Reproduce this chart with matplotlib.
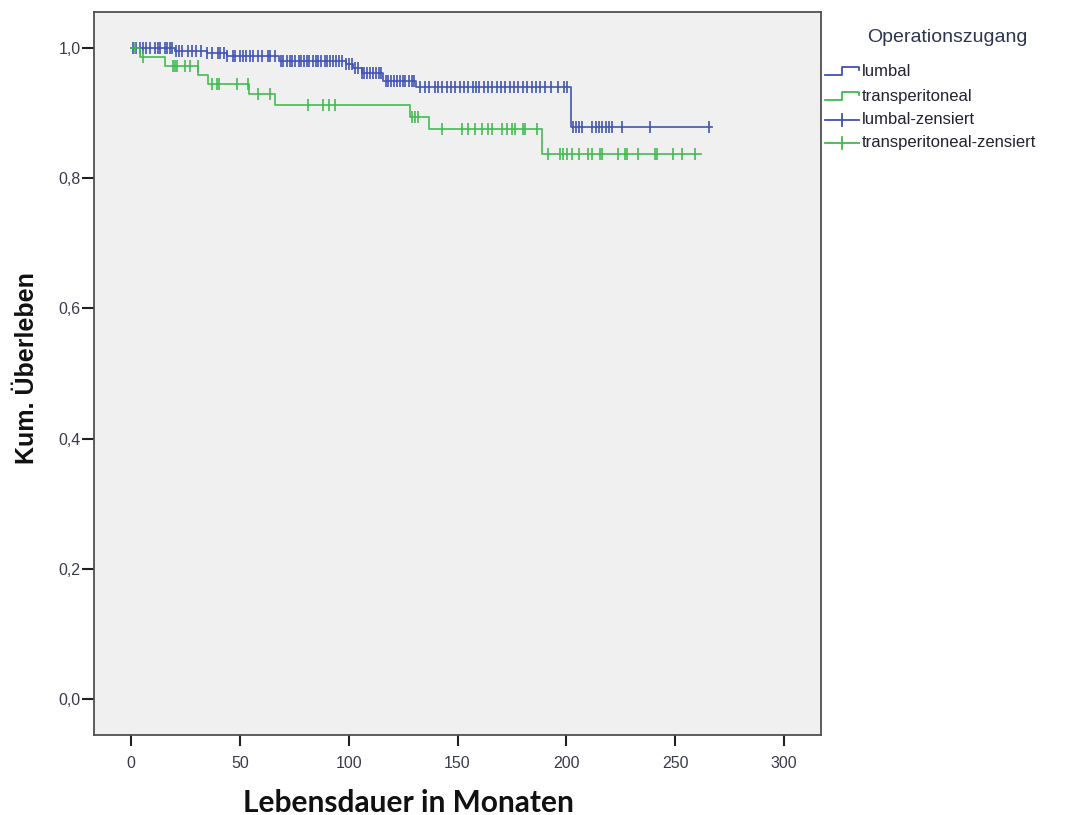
"""Kaplan-Meier-Kurven nach Operationszugang."""

import numpy as np
import matplotlib.pyplot as plt
from matplotlib.ticker import FuncFormatter

# lumbal: Ereigniszeiten (Monate) und kumuliertes Überleben nach dem Schritt
lumbal_t = [0, 20, 35, 44, 68, 99, 102, 106, 116, 131, 202]
lumbal_s = [1.0, 0.996, 0.992, 0.987, 0.980, 0.975, 0.969, 0.962, 0.950, 0.940, 0.879]
lumbal_ende = 267

lumbal_zensiert = [
    1, 2.5, 4, 5.5, 7, 8.5, 11, 12.5, 13.5, 15.5, 16.5, 18, 19, 20.5, 22, 23.5,
    26, 28, 30, 32, 35, 37, 40, 41, 42.5, 44, 47, 48, 50, 51.5, 53, 54.5, 56,
    58.5, 60, 63, 64, 66, 69, 70, 71.5, 73, 74, 75.5, 77, 78, 79.5, 81, 82,
    83.5, 85, 86, 87.5, 89, 90, 91.5, 93, 94, 95.5, 97, 99, 100, 101.5, 103,
    104.5, 106, 107, 108.5, 110, 111, 112.5, 114, 115, 117, 118, 119.5, 121,
    122, 123.5, 125, 126, 127.5, 129, 130, 133, 135, 137, 139.5, 141, 143, 145,
    147, 149, 151, 153, 155, 157, 158.5, 160, 162, 164, 166, 168, 170, 172,
    174, 176, 178, 180, 182, 184, 186, 188, 190, 193, 196, 199, 200.5, 203,
    204.5, 206, 207, 212, 213.5, 215, 216.5, 218, 219.5, 221, 225.5, 238.5,
    265.5,
]

# transperitoneal
trans_t = [0, 4, 15.5, 31, 35.5, 54, 66, 128, 137, 189]
trans_s = [1.0, 0.986, 0.972, 0.958, 0.944, 0.929, 0.912, 0.894, 0.876, 0.837]
trans_ende = 262

trans_zensiert = [
    1.8, 5.7, 19.1, 20.2, 21, 24.8, 27.1, 30.9, 37, 39.4, 40.6, 48.5, 53.9,
    58.5, 63.8, 81.4, 88.3, 91.1, 93.7, 128.9, 130.5, 132, 142.7, 151.9, 154.9,
    158, 161.1, 164.1, 165.7, 170.3, 172.6, 174.9, 176.4, 180.2, 181, 186.4,
    191.7, 197.1, 198.6, 200.1, 202.4, 205.9, 210, 211.6, 215.4, 216.6, 223.8,
    226.9, 228, 233, 240.7, 241.5, 249.1, 253, 259.1,
]

gruppen = ["lumbal", "transperitoneal"]
farben = {"lumbal": "#3F52B2", "transperitoneal": "#3FBA4E"}
x_ticks = [0, 50, 100, 150, 200, 250, 300]
y_ticks = [0.0, 0.2, 0.4, 0.6, 0.8, 1.0]

TEXT = "#3A3A4E"
W, H = 1066, 815


def ueberleben_bei(t_ereignis, s_ereignis, zeiten):
    idx = np.searchsorted(np.asarray(t_ereignis), np.asarray(zeiten), side="right") - 1
    return np.asarray(s_ereignis)[idx]


def kurve(ax, t, s, ende, zensiert, farbe):
    tt = list(t) + [ende]
    ss = list(s) + [s[-1]]
    ax.step(tt, ss, where="post", color=farbe, lw=1.3, alpha=0.9)
    ax.plot(zensiert, ueberleben_bei(t, s, zensiert), ls="none", marker="|",
            ms=9, mew=1.3, color=farbe, alpha=0.9)


fig = plt.figure(figsize=(W / 100, H / 100), dpi=100)
ax = fig.add_axes([94 / W, 1 - 735 / H, (821 - 94) / W, (735 - 12) / H])
ax.set_facecolor("#F0F0F0")

kurve(ax, lumbal_t, lumbal_s, lumbal_ende, lumbal_zensiert, farben["lumbal"])
kurve(ax, trans_t, trans_s, trans_ende, trans_zensiert, farben["transperitoneal"])

ax.set_xlim(-17, 317)
ax.set_ylim(-0.0553, 1.0553)
ax.set_xticks(x_ticks)
ax.set_yticks(y_ticks)
ax.yaxis.set_major_formatter(FuncFormatter(lambda v, _: f"{v:.1f}".replace(".", ",")))
ax.tick_params(axis="both", direction="out", color="#202020", width=1.5,
               labelcolor=TEXT, labelsize=11.5)
ax.tick_params(axis="x", length=8, pad=7)
ax.tick_params(axis="y", length=8.5, pad=1)
for lab in ax.get_xticklabels() + ax.get_yticklabels():
    lab.set_fontfamily("Liberation Sans")
for sp in ax.spines.values():
    sp.set_color("#505050")
    sp.set_linewidth(1.3)

fig.text(408 / W, 1 - 812 / H, "Lebensdauer in Monaten", ha="center", va="baseline",
         fontsize=21.5, fontweight="bold", family="Lato", color="#111111")
fig.text(27 / W, 1 - 368 / H, "Kum. Überleben", ha="center", va="center",
         rotation=90, fontsize=18, fontweight="bold", family="Liberation Sans",
         color="#111111")

# Legende rechts neben dem Diagramm
lax = fig.add_axes([822 / W, 1 - 170 / H, 244 / W, 160 / H])
lax.set_xlim(822, 1066)
lax.set_ylim(170, 10)
lax.axis("off")
lax.text(947, 38, "Operationszugang", ha="center", va="center", fontsize=14,
         family="Liberation Sans", color="#2E3350")
eintraege = [
    ("lumbal", "stufe", farben["lumbal"], 72),
    ("transperitoneal", "stufe", farben["transperitoneal"], 97),
    ("lumbal-zensiert", "kreuz", farben["lumbal"], 120),
    ("transperitoneal-zensiert", "kreuz", farben["transperitoneal"], 143),
]
for name, art, farbe, y in eintraege:
    if art == "stufe":
        lax.plot([825, 842, 842, 859, 859], [y + 3, y + 3, y - 5, y - 5, y - 2],
                 color=farbe, lw=1.3)
    else:
        lax.plot([825, 859], [y, y], color=farbe, lw=1.3)
        lax.plot([842, 842], [y - 6, y + 6], color=farbe, lw=1.3)
    lax.text(862, y, name, ha="left", va="center", fontsize=12,
             family="Liberation Sans", color="#222233")

fig.savefig("out.png", dpi=100, facecolor="white")
